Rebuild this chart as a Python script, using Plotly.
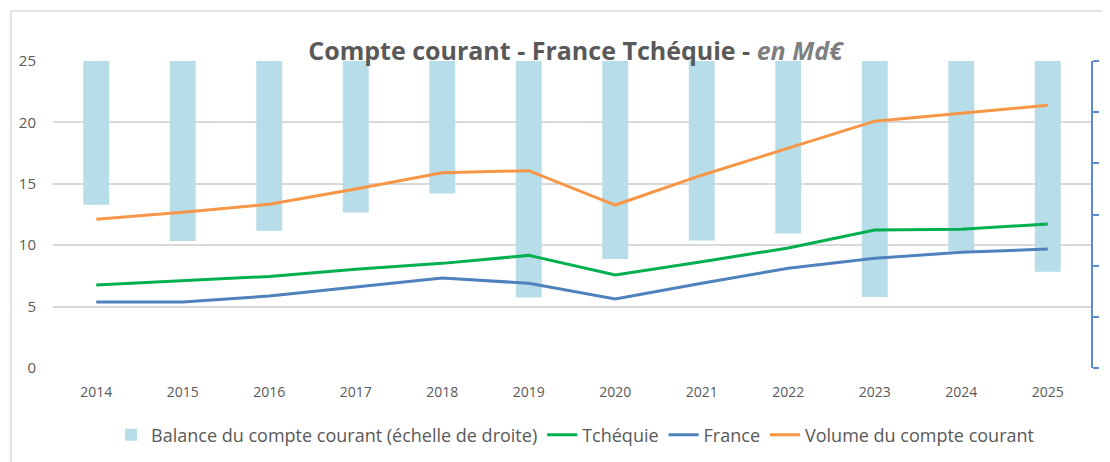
import plotly.graph_objects as go

# Données
years = ["2014", "2015", "2016", "2017", "2018", "2019",
         "2020", "2021", "2022", "2023", "2024", "2025"]
balance = [-2.81, -3.52, -3.32, -2.96, -2.59, -4.62,
           -3.87, -3.51, -3.37, -4.61, -3.71, -4.12]
tchequie = [6.76, 7.11, 7.46, 8.04, 8.52, 9.17,
            7.57, 8.66, 9.77, 11.24, 11.29, 11.73]
france = [5.37, 5.37, 5.86, 6.57, 7.33, 6.9,
          5.62, 6.9, 8.12, 8.93, 9.42, 9.69]
volume = [12.11, 12.68, 13.33, 14.58, 15.9, 16.07,
          13.27, 15.7, 17.9, 20.1, 20.75, 21.4]
left_ticks = [0, 5, 10, 15, 20, 25]
right_ticks = [0, -2, -4, -6]

font_family = "Open Sans, Liberation Sans, sans-serif"
gray = "#595959"
axis_blue = "#5b8bd0"

fig = go.Figure()

# barres sur l'axe principal (droite) pour que les courbes passent devant
fig.add_trace(go.Bar(
    x=years, y=balance, yaxis="y",
    name="Balance du compte courant (échelle de droite)",
    marker=dict(color="#b7dde8", line=dict(width=0)),
    width=0.3,
))
fig.add_trace(go.Scatter(
    x=years, y=tchequie, name="Tchéquie", mode="lines", yaxis="y2",
    line=dict(color="#00b050", width=3),
))
fig.add_trace(go.Scatter(
    x=years, y=france, name="France", mode="lines", yaxis="y2",
    line=dict(color="#4f81bd", width=3),
))
fig.add_trace(go.Scatter(
    x=years, y=volume, name="Volume du compte courant", mode="lines", yaxis="y2",
    line=dict(color="#f79646", width=3),
))

# la page ajoute une marge de 8 px : figure un peu plus petite que la fenêtre
fig.update_layout(
    width=1102, height=454,
    margin=dict(l=45, r=19, t=53, b=94, autoexpand=False),
    paper_bgcolor="white", plot_bgcolor="white",
    font=dict(family=font_family, color=gray, size=14),
    title=dict(
        text="<b>Compte courant - France Tchéquie - </b>"
             "<b><i><span style='color:#7f7f7f'>en Md€</span></i></b>",
        x=0.515, xanchor="center", y=0.905, yanchor="middle",
        font=dict(size=25, color=gray, family=font_family),
    ),
    xaxis=dict(
        showgrid=False, showline=False, ticks="", automargin=False,
        tickfont=dict(size=14, color=gray),
        ticklabelstandoff=14,
    ),
    yaxis=dict(
        side="right", range=[-6, 0], automargin=False,
        tickvals=right_ticks, showgrid=False, zeroline=False,
        showline=True, linecolor=axis_blue, linewidth=2,
        ticks="outside", ticklen=6, tickcolor=axis_blue, tickwidth=1.5,
        minor=dict(dtick=1, ticks="outside", ticklen=6,
                   tickcolor=axis_blue, tickwidth=1.5),
        tickfont=dict(size=15, color=gray),
        ticklabelstandoff=8,
    ),
    yaxis2=dict(
        overlaying="y", side="left", range=[0, 25], automargin=False,
        tickvals=left_ticks,
        showgrid=True, gridcolor="#d9d9d9", gridwidth=1.5,
        zeroline=False, showline=False,
        tickfont=dict(size=15, color=gray),
        ticklabelstandoff=16,
    ),
    legend=dict(
        orientation="h", x=0.503, xanchor="center",
        y=-0.218, yanchor="middle",
        font=dict(size=18, color=gray),
        itemwidth=30, traceorder="normal",
    ),
    barmode="overlay",
    shapes=[dict(
        type="rect", xref="paper", yref="paper",
        x0=-0.0405, x1=1.2, y0=-0.6, y1=1.163,
        line=dict(color="#d9d9d9", width=1.5), fillcolor="rgba(0,0,0,0)",
        layer="below",
    )],
)

fig.write_html("out.html")
